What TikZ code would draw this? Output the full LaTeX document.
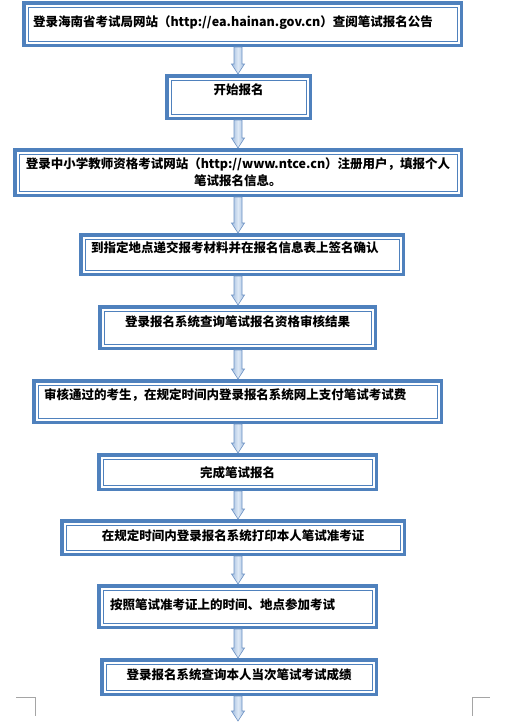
\documentclass[tikz,border=0pt]{standalone}
\usepackage{fontspec}
\usepackage{tikz}
\usetikzlibrary{calc}
\newfontfamily\cjkfont{Noto Sans CJK SC}
\XeTeXlinebreaklocale "zh"
\definecolor{frame}{RGB}{79,129,189}
\definecolor{linkfill}{RGB}{160,188,222}
\definecolor{linklight}{RGB}{222,233,246}
\definecolor{linkline}{RGB}{110,147,196}
\definecolor{crop}{RGB}{165,165,165}

% block arrow between two boxes, on the common axis
\newcommand{\flowlink}[2]{%
  \draw[linkarrow] ($(#1 -| axis)+(-4,0)$) -- ($(#2 -| axis)+(-4,-10)$)
    -- ($(#2 -| axis)+(-6.5,-10)$) -- (#2 -| axis) -- ($(#2 -| axis)+(6.5,-10)$)
    -- ($(#2 -| axis)+(4,-10)$) -- ($(#1 -| axis)+(4,0)$) -- cycle;}

\begin{document}
\begin{tikzpicture}[x=1pt, y=-1pt,
  box/.style={draw=frame, line width=3.5pt, fill=white, anchor=north west,
              inner xsep=0pt, inner ysep=0pt, align=center,
              font=\cjkfont\bfseries\fontsize{12.5}{17}\selectfont,
              path picture={\draw[frame, line width=1pt]
                ([shift={(4.25pt,4.25pt)}]path picture bounding box.south west) rectangle
                ([shift={(-4.25pt,-4.25pt)}]path picture bounding box.north east);}},
  linkarrow/.style={draw=linkline, line width=0.6pt, left color=linkfill,
              right color=linkfill, middle color=linklight},
  cropmark/.style={draw=crop, line width=0.8pt},
]
\useasboundingbox (0,0) rectangle (521,723);
\coordinate (axis) at (238,0);

% Boxes
\node[box, align=left, text width=419pt, inner xsep=9.25pt, text height=23.85pt, text depth=18.65pt] (notice) at (22,1)
  {登录海南省考试局网站（http://ea.hainan.gov.cn）查阅笔试报名公告};
\node[box, text width=143.5pt, text height=18.85pt, text depth=23.65pt] (start) at (165,74) {开始报名};
\node[box, text width=436.5pt, inner xsep=5pt, minimum height=45.5pt] (register) at (13,148)
  {登录中小学教师资格考试网站（http://www.ntce.cn）注册用户，填报个人\\笔试报名信息。};
\node[box, align=left, text width=302pt, inner xsep=10.25pt, text height=17.85pt, text depth=21.65pt] (submit) at (79,233)
  {到指定地点递交报考材料并在报名信息表上签名确认};
\node[box, text width=275.5pt, text height=19.85pt, text depth=21.65pt] (check) at (98,305)
  {登录报名系统查询笔试报名资格审核结果};
\node[box, align=left, text width=387pt, inner xsep=10.25pt, text height=18.85pt, text depth=22.65pt] (pay) at (32,379)
  {审核通过的考生，在规定时间内登录报名系统网上支付笔试考试费};
\node[box, text width=277.5pt, text height=22.85pt, text depth=11.65pt] (done) at (97,453) {完成笔试报名};
\node[box, text width=342.5pt, text height=19.85pt, text depth=13.65pt] (ticket) at (60,519)
  {在规定时间内登录报名系统打印本人笔试准考证};
\node[box, align=left, text width=255pt, inner xsep=11.25pt, text height=23.85pt, text depth=17.65pt] (exam) at (97,584)
  {按照笔试准考证上的时间、地点参加考试};
\node[box, text width=274.5pt, text height=19.85pt, text depth=14.65pt] (score) at (100,658)
  {登录报名系统查询本人当次笔试考试成绩};
\coordinate (finish) at (238,721);

% Arrows
\flowlink{notice.south}{start.north}
\flowlink{start.south}{register.north}
\flowlink{register.south}{submit.north}
\flowlink{submit.south}{check.north}
\flowlink{check.south}{pay.north}
\flowlink{pay.south}{done.north}
\flowlink{done.south}{ticket.north}
\flowlink{ticket.south}{exam.north}
\flowlink{exam.south}{score.north}
\flowlink{score.south}{finish}

% page corners
\draw[cropmark] (16,697) -- (35,697) -- (35,716);
\draw[cropmark] (490,697) -- (472,697) -- (472,716);
\end{tikzpicture}
\end{document}
